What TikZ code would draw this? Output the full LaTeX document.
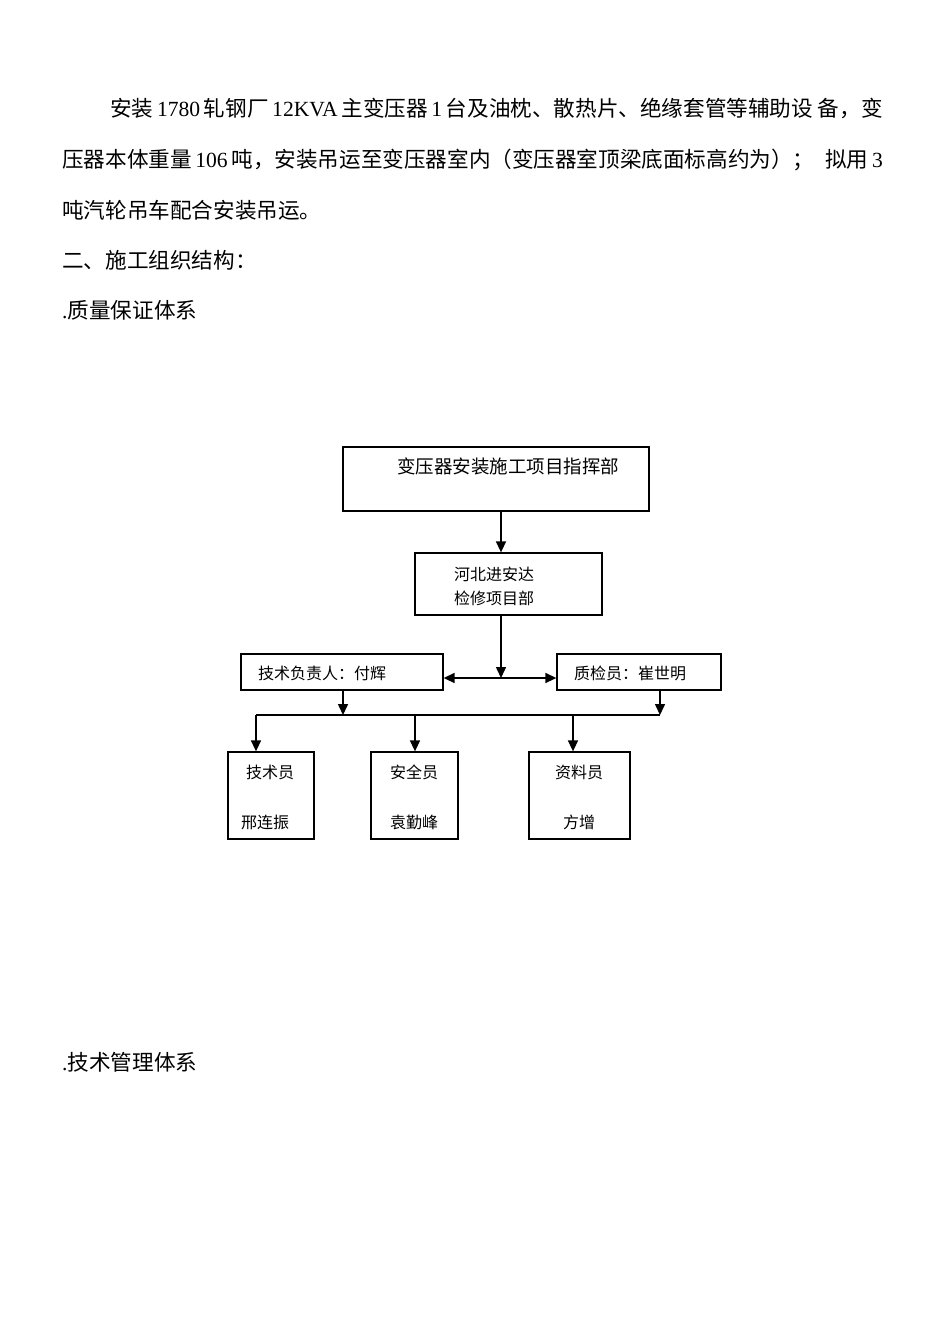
\documentclass[tikz,border=0pt]{standalone}
\usepackage{fontspec}
\setmainfont{Liberation Serif}
\newfontfamily\cjk{Noto Sans CJK SC}
\usetikzlibrary{arrows.meta}
\begin{document}
\begin{tikzpicture}[x=1pt,y=-1pt,
 box/.style={draw,line width=1.3pt,inner sep=0,fill=none},
 lbl/.style={inner sep=0,font=\cjk\fontsize{16}{16}\selectfont},
 para/.style={inner sep=0,anchor=west,font=\fontsize{21.6}{21.6}\selectfont},
 arr/.style={line width=1.5pt,-{Triangle[length=11pt,width=10pt]}},
 darr/.style={line width=1.5pt,{Triangle[length=11pt,width=10pt]}-{Triangle[length=11pt,width=10pt]}},
 ln/.style={line width=1.5pt}]
\useasboundingbox[fill=white] (0,0) rectangle (950,1344);
% paragraph text
\node[para] (p1) at (110,108) {{\cjk 安装}\,1780\,{\cjk 轧钢厂}\,12KVA\,{\cjk 主变压器}\,1\,{\cjk 台及油枕、散热片、绝缘套管等辅助设\ 备，变}};
\node[para] (p2) at (62,160) {{\cjk 压器本体重量}\,106\,{\cjk 吨，安装吊运至变压器室内（变压器室顶梁底面标高约为）；\enspace 拟用}\,3};
\node[para] (p3) at (62,210) {\cjk 吨汽轮吊车配合安装吊运。};
\node[para] (h1) at (62,260) {\cjk 二、施工组织结构：};
\node[para] (h2) at (62,310) {.{\cjk 质量保证体系}};
\node[para] (h3) at (62,1062) {.{\cjk 技术管理体系}};
% boxes
\node[box,line width=2pt,minimum width=306pt,minimum height=64pt] (b1) at (496,479) {};
\node[box,minimum width=187pt,minimum height=62pt] (b2) at (508.5,584) {};
\node[box,minimum width=202pt,minimum height=36pt] (bl) at (342,672) {};
\node[box,minimum width=164pt,minimum height=36pt] (br) at (639,672) {};
\node[box,minimum width=86pt,minimum height=87pt] (s1) at (271,795.5) {};
\node[box,minimum width=87pt,minimum height=87pt] (s2) at (414.5,795.5) {};
\node[box,minimum width=101pt,minimum height=87pt] (s3) at (579.5,795.5) {};
% labels
\node[lbl,font=\cjk\fontsize{18.5}{18.5}\selectfont] (t1) at (508,466) {变压器安装施工项目指挥部};
\node[lbl] (t2a) at (494,574) {河北进安达};
\node[lbl] (t2b) at (494,598) {检修项目部};
\node[lbl] (tl) at (322,673) {技术负责人：付辉};
\node[lbl] (tr) at (630,673) {质检员：崔世明};
\node[lbl] (s1a) at (270,772) {技术员};
\node[lbl] (s1b) at (265,822) {邢连振};
\node[lbl] (s2a) at (414,772) {安全员};
\node[lbl] (s2b) at (414,822) {袁勤峰};
\node[lbl] (s3a) at (579,772) {资料员};
\node[lbl] (s3b) at (579,822) {方增};
% coordinates
\coordinate (mid) at (501,678);
\coordinate (jl) at (343,715);
\coordinate (jr) at (660,715);
\coordinate (j1) at (256,715);
\coordinate (j2) at (415,715);
\coordinate (j3) at (573,715);
% connectors
\draw[arr] (b1.south -| mid) -- (b2.north -| mid);
\draw[arr] (b2.south -| mid) -- (mid);
\draw[darr] (bl.east |- mid) -- (br.west |- mid);
\draw[arr] (bl.south -| jl) -- (jl);
\draw[arr] (br.south -| jr) -- (jr);
\draw[ln] (j1) -- (jr);
\draw[arr] (j1) -- (s1.north -| j1);
\draw[arr] (j2) -- (s2.north -| j2);
\draw[arr] (j3) -- (s3.north -| j3);
\end{tikzpicture}
\end{document}
